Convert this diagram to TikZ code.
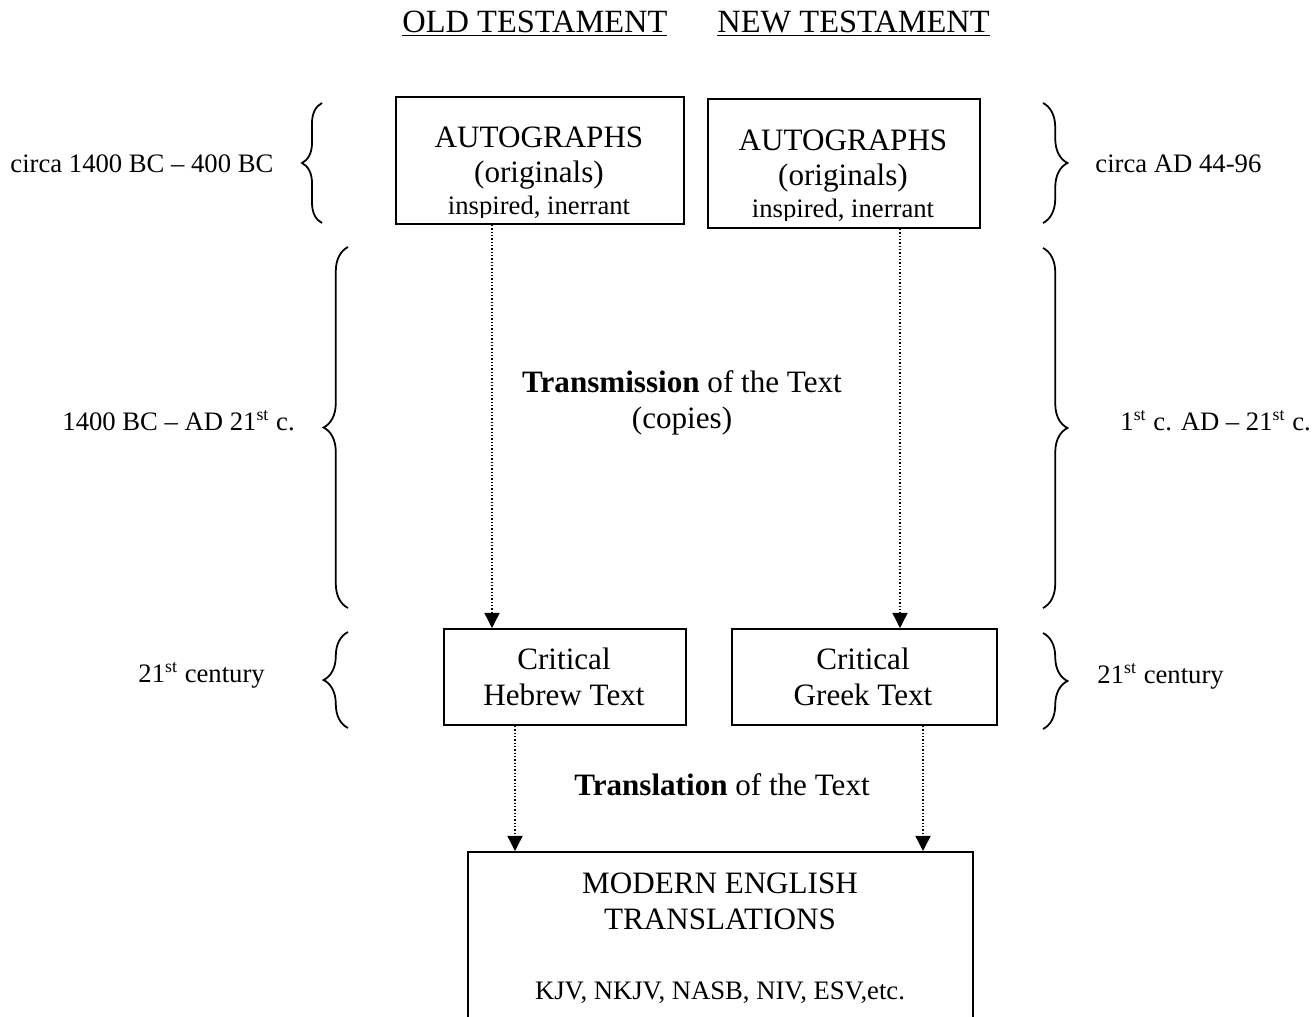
\documentclass[tikz,border=0pt]{standalone}
\usepackage{fontspec}
\setmainfont{Liberation Serif}
\usetikzlibrary{arrows.meta,calc,positioning,decorations.pathreplacing}

\begin{document}
\begin{tikzpicture}[
      x=0.45pt, y=-0.45pt,
      >={Triangle[length=6.8pt,width=6.8pt]},
      boxframe/.style={draw, line width=0.9pt, inner sep=0pt, anchor=north west},
      bigtext/.style={font=\fontsize{14}{16}\selectfont, inner sep=0pt, anchor=base},
      headtext/.style={font=\fontsize{14.6}{16}\selectfont, inner sep=0pt, anchor=base west},
      smalltext/.style={font=\fontsize{12}{14}\selectfont, inner sep=0pt, anchor=base},
      sidetext/.style={smalltext, anchor=base west},
      copyline/.style={->, line width=0.6pt, dash pattern=on 0.6pt off 0.9pt},
      bracket/.style={decorate, decoration={brace, amplitude=#1}, line width=0.8pt},
]

\clip (0,0) rectangle (1316,1016);

% headings
\node[headtext] (oldT) at (402,32) {\underline{OLD TESTAMENT}};
\node[headtext] (newT) at (717,32) {\underline{NEW TESTAMENT}};

% autographs
\node[boxframe, minimum width=129.6pt, minimum height=57.15pt] (autoOT) at (395,96) {};
\node[boxframe, minimum width=122.4pt, minimum height=58.05pt] (autoNT) at (707,98) {};
\node[bigtext] (autoOTname) at (539,147) {AUTOGRAPHS};
\node[bigtext] (autoOTorig) at (539,182) {(originals)};
\node[bigtext] (autoNTname) at (843,150) {AUTOGRAPHS};
\node[bigtext] (autoNTorig) at (843,185) {(originals)};
\begin{scope}
  \clip (autoOT.north west) rectangle ($(autoOT.south east)+(0,-8)$);
  \node[smalltext] (autoOTnote) at (539,214) {inspired, inerrant};
\end{scope}
\begin{scope}
  \clip (autoNT.north west) rectangle ($(autoNT.south east)+(0,-9)$);
  \node[smalltext] (autoNTnote) at (843,217) {inspired, inerrant};
\end{scope}

\node[sidetext] (otDate) at (10,172) {circa 1400 BC – 400 BC};
\node[sidetext] (ntDate) at (1095,172) {circa AD 44-96};
\draw[bracket=9pt] (322,223) -- (322,103);
\draw[bracket=11pt] (1043,103) -- (1043,223);

% transmission
\node[bigtext] (trans) at (682,392) {\textbf{Transmission} of the Text};
\node[bigtext] (copies) at (682,428) {(copies)};
\node[sidetext] (otSpan) at (62,430) {1400 BC – AD 21\textsuperscript{st} c.};
\node[sidetext] (ntSpan) at (1120,430) {1\textsuperscript{st} c. AD – 21\textsuperscript{st} c.};
\draw[bracket=11pt] (348,608) -- (348,247);
\draw[bracket=11pt] (1043,248) -- (1043,608);

% critical texts
\node[boxframe, minimum width=108.9pt, minimum height=43.2pt] (critOT) at (443,628) {};
\node[boxframe, minimum width=119.25pt, minimum height=43.2pt] (critNT) at (731,628) {};
\node[bigtext] (critOTa) at (564,669) {Critical};
\node[bigtext] (critOTb) at (564,705) {Hebrew Text};
\node[bigtext] (critNTa) at (863,669) {Critical};
\node[bigtext] (critNTb) at (863,705) {Greek Text};
\node[sidetext] (otNow) at (138,682) {21\textsuperscript{st} century};
\node[sidetext] (ntNow) at (1097,683) {21\textsuperscript{st} century};
\draw[bracket=11pt] (348,728) -- (348,632);
\draw[bracket=11pt] (1043,633) -- (1043,729);

\coordinate (otLine) at (492,0);
\coordinate (ntLine) at (900,0);
\draw[copyline] (otLine |- autoOT.south) -- (otLine |- critOT.north);
\draw[copyline] (ntLine |- autoNT.south) -- (ntLine |- critNT.north);

% translation
\node[bigtext] (transl) at (722,795) {\textbf{Translation} of the Text};
\node[boxframe, minimum width=227.25pt, minimum height=80pt] (modern) at (467,851) {};
\node[bigtext] (modernA) at (720,893) {MODERN ENGLISH};
\node[bigtext] (modernB) at (720,929) {TRANSLATIONS};
\node[smalltext] (versions) at (720,999) {KJV, NKJV, NASB, NIV, ESV,etc.};

\coordinate (heLine) at (515,0);
\coordinate (grLine) at (923,0);
\draw[copyline] (heLine |- critOT.south) -- (heLine |- modern.north);
\draw[copyline] (grLine |- critNT.south) -- (grLine |- modern.north);

\end{tikzpicture}
\end{document}
